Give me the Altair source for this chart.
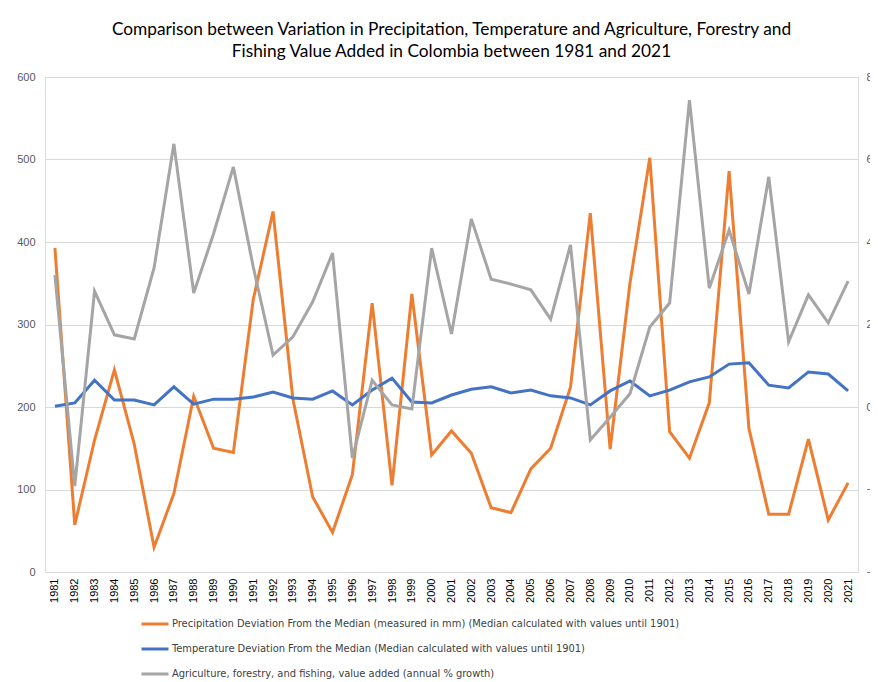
import altair as alt
import pandas as pd

years = [str(y) for y in range(1981, 2022)]

precip = [393, 57, 160, 245, 155, 30, 95, 213, 150, 145,
          330, 437, 210, 91, 48, 118, 326, 105, 337, 142,
          171, 144, 78, 72, 125, 150, 224, 435, 149, 350,
          502, 170, 138, 205, 486, 174, 70, 70, 161, 63, 108]

temp = [0.02, 0.10, 0.65, 0.17, 0.17, 0.05, 0.49, 0.07, 0.19, 0.19,
        0.24, 0.36, 0.22, 0.19, 0.39, 0.05, 0.41, 0.70, 0.12, 0.10,
        0.29, 0.43, 0.49, 0.34, 0.41, 0.27, 0.22, 0.05, 0.39, 0.63,
        0.27, 0.41, 0.61, 0.73, 1.04, 1.07, 0.53, 0.46, 0.85, 0.80, 0.39]

agri = [3.20, -1.92, 2.81, 1.75, 1.65, 3.37, 6.38, 2.76, 4.20, 5.82,
        3.40, 1.26, 1.70, 2.55, 3.73, -1.24, 0.65, 0.05, -0.05, 3.85,
        1.77, 4.56, 3.10, 2.98, 2.84, 2.13, 3.93, -0.80, -0.25, 0.32,
        1.94, 2.52, 7.44, 2.88, 4.29, 2.74, 5.58, 1.58, 2.72, 2.04, 3.05]

names = [
    "Precipitation Deviation From the Median (measured in mm)  (Median calculated with values until 1901)",
    "Temperature Deviation From the Median (Median calculated with values until 1901)",
    "Agriculture, forestry, and fishing, value added (annual % growth)",
]
colors = ["#ED7D31", "#4472C4", "#A5A5A5"]

left_ticks = [0, 100, 200, 300, 400, 500, 600]
right_ticks = [-4, -2, 0, 2, 4, 6, 8]

df_p = pd.DataFrame({"year": years, "value": precip, "series": names[0]})
df_t = pd.DataFrame({"year": years, "value": temp, "series": names[1]})
df_a = pd.DataFrame({"year": years, "value": agri, "series": names[2]})

color = alt.Color(
    "series:N",
    scale=alt.Scale(domain=names, range=colors),
    legend=alt.Legend(
        title=None,
        orient="none",
        legendX=95,
        legendY=532,
        direction="vertical",
        symbolType="stroke",
        symbolSize=729,
        symbolStrokeWidth=3,
        labelFont="DejaVu Sans Condensed",
        labelFontSize=11,
        labelColor="#404040",
        labelOffset=2,
        rowPadding=4,
        labelLimit=700,
    ),
)

x = alt.X(
    "year:O",
    sort=years,
    scale=alt.Scale(padding=0.5),
    axis=alt.Axis(
        title=None, labelAngle=-90, ticks=False, domain=False,
        labelFontSize=11, labelColor="#000000", labelPadding=6,
        labelFont="Liberation Sans", labelBaseline="middle", labelAlign="right",
    ),
)

left_axis = alt.Axis(
    title=None, values=left_ticks, ticks=False, domain=False, grid=True,
    gridColor="#D9D9D9", gridWidth=1, labelFontSize=11, labelColor="#595959",
    labelPadding=10, labelFont="Liberation Sans",
)
right_axis = alt.Axis(
    title=None, orient="right", values=right_ticks, ticks=False, domain=False,
    grid=False, labelFontSize=11, labelColor="#595959", labelPadding=8,
    labelFont="Liberation Sans",
)

p_line = alt.Chart(df_p).mark_line(strokeWidth=3).encode(
    x=x,
    y=alt.Y("value:Q", scale=alt.Scale(domain=[0, 600], nice=False), axis=left_axis),
    color=color,
)

t_line = alt.Chart(df_t).mark_line(strokeWidth=3).encode(
    x=x,
    y=alt.Y("value:Q", scale=alt.Scale(domain=[-4, 8], nice=False), axis=right_axis),
    color=color,
)
a_line = alt.Chart(df_a).mark_line(strokeWidth=3).encode(
    x=x,
    y=alt.Y("value:Q", scale=alt.Scale(domain=[-4, 8], nice=False), axis=right_axis),
    color=color,
)

chart = alt.layer(p_line, alt.layer(t_line, a_line)).resolve_scale(y="independent").properties(
    width=813,
    height=495,
    autosize=alt.AutoSizeParams(type="none"),
    padding={"left": 37, "top": 69, "right": 12, "bottom": 110},
    title=alt.TitleParams(
        text=["Comparison between Variation in Precipitation, Temperature and Agriculture, Forestry and",
              "Fishing Value Added in Colombia between 1981 and 2021"],
        anchor="middle", font="Lato", fontSize=17.3, fontWeight="normal",
        color="#000000", lineHeight=22, offset=11,
    ),
).configure_view(stroke=None).configure(background="white")

chart.save("out.html", embed_options={"renderer": "svg", "actions": False})
